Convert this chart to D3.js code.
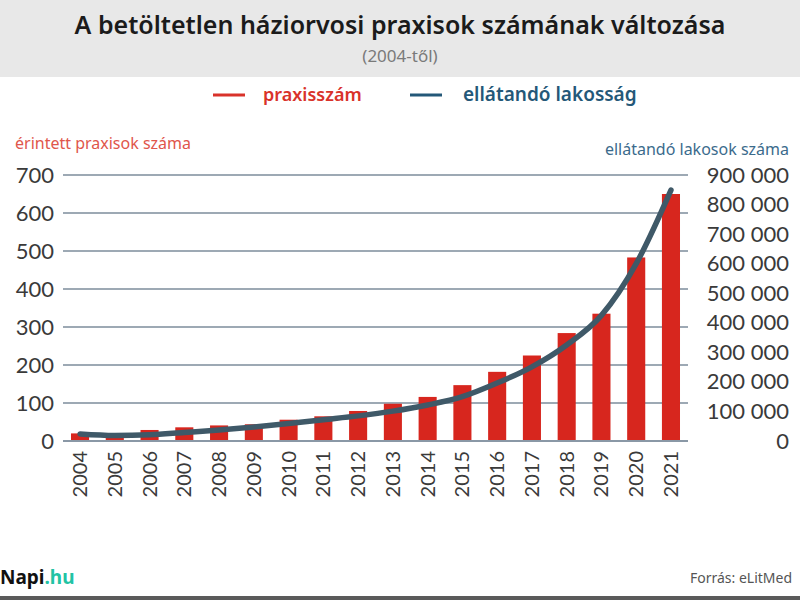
<!DOCTYPE html>
<html>
<head>
<meta charset="utf-8">
<script src="https://cdn.jsdelivr.net/npm/d3@7"></script>
<style>
  body { margin: 0; background: #fff; }
  svg { display: block; font-family: "Noto Sans", Lato, sans-serif; }
</style>
</head>
<body>
<svg id="chart"></svg>
<script>
// data
var years = ["2004", "2005", "2006", "2007", "2008", "2009", "2010", "2011", "2012",
             "2013", "2014", "2015", "2016", "2017", "2018", "2019", "2020", "2021"];
var praxis = [20, 13, 29, 36, 41, 44, 56, 65, 79, 98, 116, 147, 182, 225, 284, 335, 483, 650];
var lakossag = [24000, 19000, 21000, 29000, 37000, 47000, 59000, 72000, 85000, 101000,
                122000, 150000, 196000, 251000, 325000, 425000, 600000, 849000];
var leftTicks = [0, 100, 200, 300, 400, 500, 600, 700];
var rightTicks = [0, 100000, 200000, 300000, 400000, 500000, 600000, 700000, 800000, 900000];

var W = 800, H = 600;
var red = "#d7261e", slate = "#3f5968", grid = "#7d8c9b";

var svg = d3.select("#chart").attr("width", W).attr("height", H);

// header band
svg.append("rect").attr("x", 0).attr("y", 0).attr("width", W).attr("height", 77).attr("fill", "#e8e8e8");
svg.append("text").attr("x", 400).attr("y", 34).attr("text-anchor", "middle")
    .attr("font-size", 25).attr("font-weight", 600).attr("fill", "#1b1b1b")
    .text("A betöltetlen háziorvosi praxisok számának változása");
svg.append("text").attr("x", 400).attr("y", 62).attr("text-anchor", "middle")
    .attr("font-size", 17).attr("fill", "#7a7a7a").text("(2004-től)");

// legend
var legend = [
    {label: "praxisszám", color: "#d9322a", x: 213, size: 18},
    {label: "ellátandó lakosság", color: "#245878", x: 410, size: 19}
];
var lg = svg.selectAll(".legend").data(legend).enter().append("g")
    .attr("transform", function(d) { return "translate(" + d.x + ",95)"; });
lg.append("line").attr("x1", 0).attr("x2", 32).attr("y1", 0).attr("y2", 0)
    .attr("stroke", function(d) { return d.color; }).attr("stroke-width", 3);
lg.append("text").attr("x", function(d, i) { return i ? 53 : 50; }).attr("y", 6)
    .attr("font-size", function(d) { return d.size; }).attr("font-weight", 600)
    .attr("fill", function(d) { return d.color; }).text(function(d) { return d.label; });

// axis titles
svg.append("text").attr("x", 15).attr("y", 149).attr("font-size", 16).attr("fill", "#e0564b")
    .text("érintett praxisok száma");
svg.append("text").attr("x", 789).attr("y", 155).attr("text-anchor", "end").attr("font-size", 16)
    .attr("fill", "#3b6b8c").text("ellátandó lakosok száma");

// scales
var x = d3.scaleBand().domain(years).range([63, 688]).paddingInner(0.48).paddingOuter(0.23);
var yL = d3.scaleLinear().domain([0, 700]).range([441, 175]);
var yR = d3.scaleLinear().domain([0, 900000]).range([441, 175]);

// gridlines
svg.append("g").selectAll("line").data(leftTicks.slice(1)).enter().append("line")
    .attr("x1", 63).attr("x2", 688)
    .attr("y1", function(d) { return yL(d); }).attr("y2", function(d) { return yL(d); })
    .attr("stroke", grid).attr("stroke-width", 1.6);

// bars
svg.append("g").selectAll("rect").data(praxis).enter().append("rect")
    .attr("x", function(d, i) { return x(years[i]); })
    .attr("width", x.bandwidth())
    .attr("y", function(d) { return yL(d); })
    .attr("height", function(d) { return yL(0) - yL(d); })
    .attr("fill", red);

// baseline
svg.append("line").attr("x1", 63).attr("x2", 688).attr("y1", yL(0)).attr("y2", yL(0))
    .attr("stroke", "#8a98a6").attr("stroke-width", 2);

// curve
var line = d3.line()
    .x(function(d, i) { return x(years[i]) + x.bandwidth() / 2; })
    .y(function(d) { return yR(d); })
    .curve(d3.curveMonotoneX);
svg.append("path").datum(lakossag).attr("d", line)
    .attr("fill", "none").attr("stroke", slate).attr("stroke-width", 5.5)
    .attr("stroke-linecap", "round");

// axes
var fmt = d3.formatLocale({decimal: ",", thousands: "\u00a0", grouping: [3], currency: ["", ""]}).format(",d");

var axL = svg.append("g").attr("transform", "translate(54,0)")
    .call(d3.axisLeft(yL).tickValues(leftTicks).tickSize(0).tickPadding(0));
var axR = svg.append("g").attr("transform", "translate(789,0)")
    .call(d3.axisLeft(yR).tickValues(rightTicks).tickSize(0).tickPadding(0).tickFormat(fmt));
var axX = svg.append("g").attr("transform", "translate(0," + yL(0) + ")")
    .call(d3.axisBottom(x).tickSize(0).tickPadding(0));

[axL, axR, axX].forEach(function(a) {
    a.select(".domain").remove();
    a.selectAll("text").attr("font-family", "Lato, sans-serif").attr("font-size", 22).attr("fill", "#3a3a3a");
});
axX.selectAll("text")
    .attr("transform", "rotate(-90)")
    .attr("text-anchor", "end")
    .attr("x", -10).attr("y", 0).attr("dy", "0.35em")
    .attr("font-size", 20);

// footer
var brand = svg.append("text").attr("x", 0).attr("y", 584).attr("font-size", 19).attr("font-weight", 700);
brand.append("tspan").attr("fill", "#111").text("Napi");
brand.append("tspan").attr("fill", "#22c3a4").text(".hu");
svg.append("text").attr("x", 792).attr("y", 583).attr("text-anchor", "end").attr("font-size", 14)
    .attr("fill", "#555").text("Forrás: eLitMed");
svg.append("rect").attr("x", 0).attr("y", 596).attr("width", W).attr("height", 4).attr("fill", "#5a5a5a");
</script>
</body>
</html>
